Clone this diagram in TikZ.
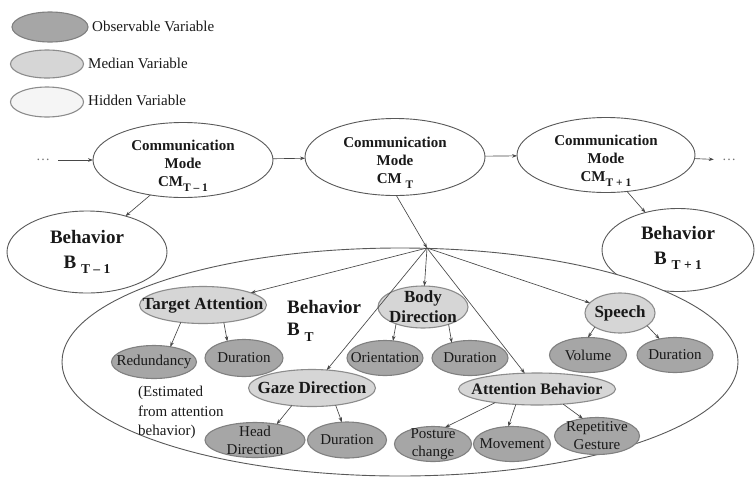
\documentclass[tikz,border=0pt]{standalone}
\usepackage{fontspec}
\setmainfont{Liberation Serif}
\usetikzlibrary{shapes.geometric,arrows.meta}
\newcommand\lsub[1]{\raisebox{-0.3em}{\fontsize{11.5}{11.5}\selectfont #1}}
\newcommand\bsub[1]{\raisebox{-0.3em}{\fontsize{13.5}{13.5}\selectfont #1}}
\begin{document}
\begin{tikzpicture}[x=1pt,y=-1pt,
  hidn/.style={ellipse, draw=black!65, fill=white, line width=0.9pt, inner sep=0, outer sep=0},
  medn/.style={ellipse, draw=black!45, fill=black!16, line width=1.1pt, inner sep=0, outer sep=0},
  obsn/.style={ellipse, draw=black!50, fill=black!35, line width=1.1pt, inner sep=0, outer sep=0},
  arr/.style={-{Stealth[length=5pt,width=3.6pt]}, draw=black!72, line width=0.65pt},
  cmtext/.style={label={[align=center, font=\fontsize{15}{18}\selectfont\bfseries, text=black!90, yshift=-6pt]center:#1}},
  btext/.style={label={[align=center, font=\fontsize{19}{25}\selectfont\bfseries, text=black!90]center:#1}},
  mtext/.style={label={[align=center, font=\fontsize{17}{20}\selectfont\bfseries, text=black!90]center:#1}},
  otext/.style={label={[align=center, font=\fontsize{15}{18}\selectfont, text=black!90]center:#1}},
  legtext/.style={anchor=west, inner sep=0, font=\fontsize{15}{18}\selectfont, text=black!90},
  dotsn/.style={inner sep=8pt, font=\fontsize{14}{14}\selectfont, text=black!55}
]
\useasboundingbox (0,0) rectangle (755,480);

% legend
\node[obsn, minimum width=76, minimum height=30] (leg1) at (50,27) {};
\node[medn, minimum width=73, minimum height=28] (leg2) at (47,64) {};
\node[hidn, draw=black!45, line width=1.1pt, fill=black!4, minimum width=73, minimum height=30] (leg3) at (47,102) {};
\node[legtext] (legt1) at (92,26) {Observable Variable};
\node[legtext] (legt2) at (88,63) {Median Variable};
\node[legtext] (legt3) at (88,100) {Hidden Variable};

% communication modes
\node[hidn, minimum width=180, minimum height=75, cmtext={Communication\\Mode\\CM\lsub{T – 1}}] (cm1) at (183,160) {};
\node[hidn, minimum width=180, minimum height=77, cmtext={Communication\\Mode\\CM \lsub{T}}] (cmT) at (395,157) {};
\node[hidn, minimum width=178, minimum height=75, cmtext={Communication\\Mode\\CM\lsub{T + 1}}] (cm3) at (606,155) {};
\node[dotsn] (d1) at (43,160) {\dots};
\node[dotsn] (d2) at (729,160) {\dots};

% behaviors
\node[hidn, minimum width=160, minimum height=82, btext={Behavior\\B \bsub{T – 1}}] (b1) at (87,252) {};
\node[hidn, minimum width=152, minimum height=83, label={[align=center, font=\fontsize{19}{25}\selectfont\bfseries, text=black!90, yshift=2pt]center:Behavior\\B \bsub{T + 1}}] (b3) at (678,250) {};
\node[hidn, minimum width=676, minimum height=228] (bt) at (400,362) {};
\coordinate (hub) at (427,248);
\node[anchor=north west, align=left, inner sep=0, font=\fontsize{19}{22}\selectfont\bfseries, text=black!90] (btlab) at (287,300) {Behavior\\B \bsub{T}};

% median variables
\node[medn, minimum width=127, minimum height=37, mtext={Target Attention}] (ta) at (203,305) {};
\node[medn, minimum width=90, minimum height=42, mtext={Body\\Direction}] (bd) at (423,307) {};
\node[medn, minimum width=70, minimum height=40, mtext={Speech}] (sp) at (620,313) {};

% observable variables
\node[obsn, minimum width=85, minimum height=33, otext={Redundancy}] (red) at (154,362) {};
\node[obsn, minimum width=78, minimum height=37, otext={Duration}] (dur1) at (244,358) {};
\node[obsn, minimum width=76, minimum height=35, otext={Orientation}] (ori) at (385,358) {};
\node[obsn, minimum width=76, minimum height=35, otext={Duration}] (dur3) at (470,358) {};
\node[obsn, minimum width=77, minimum height=35, otext={Volume}] (vol) at (588,355) {};
\node[obsn, minimum width=76, minimum height=35, otext={Duration}] (dur4) at (675,355) {};

\node[medn, minimum width=127, minimum height=37, mtext={Gaze Direction}] (gd) at (312,388) {};
\node[medn, minimum width=157, minimum height=32, label={[align=center, font=\fontsize{16}{19}\selectfont\bfseries, text=black!90]center:Attention Behavior}] (ab) at (537,389) {};

\node[obsn, minimum width=100, minimum height=35, otext={Head\\Direction}] (head) at (255,440) {};
\node[obsn, minimum width=79, minimum height=36, otext={Duration}] (dur2) at (347,440) {};
\node[obsn, minimum width=77, minimum height=35, otext={Posture\\change}] (pos) at (433,444) {};
\node[obsn, minimum width=77, minimum height=35, otext={Movement}] (mov) at (512,444) {};
\node[obsn, minimum width=85, minimum height=37, otext={Repetitive\\Gesture}] (rep) at (597,436) {};

\node[anchor=north west, align=left, inner sep=0, font=\fontsize{15}{19.5}\selectfont, text=black!90] (est) at (138,386) {(Estimated\\from attention\\behavior)};

% connectors
\draw[arr] (d1) -- (cm1);
\draw[arr] (cm1) -- (cmT);
\draw[arr] (cmT) -- (cm3);
\draw[arr] (cm3) -- (d2);
\draw[arr] (cm1.-133) -- (b1.43);
\draw[arr] (cm3.-60) -- (b3.131);
\draw[arr] (cmT.-88) -- (hub);
\draw[arr] (hub) -- (ta);
\draw[arr] (hub) -- (gd);
\draw[arr] (hub) -- (bd);
\draw[arr] (hub) -- (ab);
\draw[arr] (hub) -- (sp);

\draw[arr] (ta.-142) -- (red.43);
\draw[arr] (ta.-40) -- (dur1.135);
\draw[arr] (gd.-139) -- (head.36);
\draw[arr] (gd.-36) -- (dur2.106);
\draw[arr] (bd.-148) -- (ori.65);
\draw[arr] (bd.-34) -- (dur3.140);
\draw[arr] (sp.-151) -- (vol.90);
\draw[arr] (sp.-25) -- (dur4.134);
\draw[arr] (ab.-162) -- (pos.54);
\draw[arr] (ab.-144) -- (mov.102);
\draw[arr] (ab.-30) -- (rep.129);
\end{tikzpicture}
\end{document}
